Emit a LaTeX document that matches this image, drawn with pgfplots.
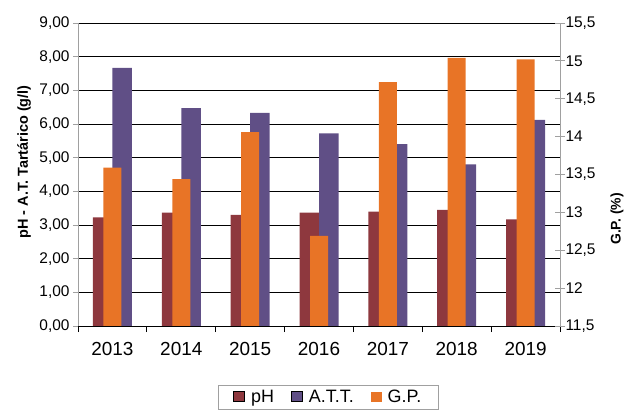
\documentclass[border=0pt]{standalone}
\usepackage{pgfplots}
\pgfplotsset{compat=1.18}
\usepackage{fontspec}
\setmainfont{Liberation Sans}
\definecolor{phc}{RGB}{142,56,62}
\definecolor{attc}{RGB}{96,79,134}
\definecolor{gpc}{RGB}{232,116,38}
\definecolor{axg}{RGB}{160,160,160}
\begin{document}
\begin{tikzpicture}
\useasboundingbox (0bp,0bp) rectangle (625bp,412bp);
\begin{axis}[
  at={(78bp,86bp)}, anchor=south west, scale only axis,
  width=482bp, height=303bp,
  xmin=-0.5, xmax=6.5, ymin=0, ymax=9,
  axis x line*=bottom, axis y line*=left,
  x axis line style={black, line width=0.8bp},
  y axis line style={axg, line width=0.8bp},
  xtick={0,...,6},
  xticklabels={2013,2014,2015,2016,2017,2018,2019},
  major x tick style={draw=none},
  minor xtick={-0.5,0.5,...,6.5},
  minor x tick style={black, line width=0.8bp},
  minor tick length=6bp,
  xticklabel style={font=\fontsize{19}{22}\selectfont, yshift=-8bp},
  ytick={0,1,...,9},
  ytick style={axg, line width=0.8bp},
  tick align=outside,
  major tick length=5bp,
  yticklabel style={font=\fontsize{15.5}{18}\selectfont},
  /pgf/number format/.cd, use comma, fixed, fixed zerofill, precision=2, assume math mode=true,
  /pgfplots/.cd,
  ymajorgrids, major grid style={black, line width=0.8bp},
  ybar=0pt, bar width=19.5bp,
]
\addplot[fill=phc, draw=none] coordinates {(0,3.23)(1,3.37)(2,3.30)(3,3.37)(4,3.40)(5,3.45)(6,3.17)};
\addplot[fill=attc, draw=none] coordinates {(0,7.67)(1,6.47)(2,6.33)(3,5.72)(4,5.40)(5,4.80)(6,6.12)};
\end{axis}
\begin{axis}[
  at={(78bp,86bp)}, anchor=south west, scale only axis,
  width=482bp, height=303bp,
  xmin=-0.5, xmax=6.5, ymin=11.5, ymax=15.5,
  axis x line=none, axis y line*=right,
  y axis line style={axg, line width=0.8bp},
  ytick={11.5,12,...,15.5},
  ytick style={axg, line width=0.8bp},
  tick align=center, major tick length=10bp,
  yticklabel style={font=\fontsize{15.5}{18}\selectfont, xshift=-3bp},
  /pgf/number format/.cd, use comma, fixed, precision=1, assume math mode=true,
  /pgfplots/.cd,
  ybar, bar width=18bp, bar shift=0pt,
  legend style={at={(0.2905,-0.1947)}, anchor=north west, legend columns=3,
    draw=axg, line width=0.8bp, font=\fontsize{18}{20}\selectfont,
    inner xsep=15bp, inner ysep=3bp,
    /tikz/every odd column/.append style={column sep=4bp},
    /tikz/every even column/.append style={column sep=15bp}},
  legend image code/.code={\fill[#1] (0bp,-4.5bp) rectangle (11bp,5.5bp);},
]
\addlegendimage{fill=phc}\addlegendentry{pH}
\addlegendimage{fill=attc}\addlegendentry{A.T.T.}
\addplot[fill=gpc, draw=none] coordinates {(0,13.59)(1,13.44)(2,14.06)(3,12.69)(4,14.72)(5,15.04)(6,15.02)};
\addlegendentry{G.P.}
\end{axis}
\node[rotate=90, font=\bfseries\fontsize{14.5}{16}\selectfont] at (24bp,250bp) {pH - A.T. Tartárico (g/l)};
\node[rotate=90, font=\bfseries\fontsize{14}{16}\selectfont] at (617bp,193bp) {G.P. (\%)};
\end{tikzpicture}
\end{document}
